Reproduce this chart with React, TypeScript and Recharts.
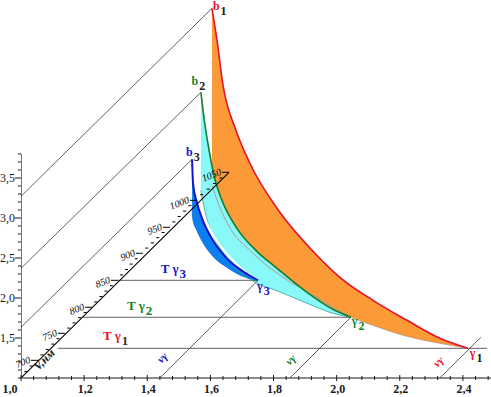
import {
  Area,
  ComposedChart,
  Line,
  ReferenceDot,
  XAxis,
  YAxis,
} from "recharts";

const SERIF = "'Liberation Serif', serif";
const RED = "#e8112d";
const GREEN = "#14802c";
const BLUE = "#1414c8";
const INK = "#1a1a1a";

const X_TICKS = [
  1.0, 1.04, 1.08, 1.12, 1.16, 1.2, 1.24, 1.28, 1.32, 1.36, 1.4, 1.44, 1.48, 1.52, 1.56, 1.6, 1.64,
  1.68, 1.72, 1.76, 1.8, 1.84, 1.88, 1.92, 1.96, 2.0, 2.04, 2.08, 2.12, 2.16, 2.2, 2.24, 2.28, 2.32,
  2.36, 2.4, 2.44, 2.48,
];
const X_LABELS = [1.0, 1.2, 1.4, 1.6, 1.8, 2.0, 2.2, 2.4];
const Y_TICKS = [
  1.0, 1.1, 1.2, 1.3, 1.4, 1.5, 1.6, 1.7, 1.8, 1.9, 2.0, 2.1, 2.2, 2.3, 2.4, 2.5, 2.6, 2.7, 2.8, 2.9,
  3.0, 3.1, 3.2, 3.3, 3.4, 3.5, 3.6, 3.7, 3.8,
];
const Y_LABELS = [1.5, 2.0, 2.5, 3.0, 3.5];

// filled bands: [x, lower, upper]
const orangeBand = [
  [1.605, 3.696, 5.621],
  [1.621, 3.396, 5.22],
  [1.64, 3.196, 4.66],
  [1.681, 2.896, 4.096],
  [1.725, 2.684, 3.684],
  [1.82, 2.334, 3.071],
  [1.922, 2.034, 2.596],
  [2.01, 1.821, 2.259],
  [2.115, 1.659, 1.971],
  [2.223, 1.521, 1.721],
  [2.327, 1.434, 1.496],
  [2.416, 1.371, 1.371],
];
const cyanBand = [
  [1.57, 3.346, 4.571],
  [1.583, 3.08, 4.159],
  [1.596, 2.9, 3.846],
  [1.611, 2.76, 3.534],
  [1.634, 2.6, 3.246],
  [1.684, 2.36, 2.871],
  [1.744, 2.19, 2.596],
  [1.811, 2.09, 2.371],
  [1.906, 1.934, 2.071],
  [1.988, 1.809, 1.859],
  [2.045, 1.759, 1.759],
];
const blueBand = [
  [1.542, 3.096, 3.734],
  [1.545, 2.971, 3.434],
  [1.557, 2.846, 3.196],
  [1.576, 2.696, 2.971],
  [1.608, 2.521, 2.721],
  [1.652, 2.384, 2.496],
  [1.703, 2.271, 2.334],
  [1.751, 2.221, 2.221],
];

const innerCurve = [
  [1.605, 3.409],
  [1.63, 3.134],
  [1.652, 2.946],
  [1.735, 2.559],
  [1.83, 2.259],
  [1.938, 2.009],
  [2.045, 1.759],
];
const whiteCurve = [
  [1.564, 3.271],
  [1.583, 2.996],
  [1.615, 2.746],
  [1.659, 2.521],
  [1.709, 2.334],
  [1.751, 2.221],
];

// straight construction lines
const straightLines = [
  { id: "b1", points: [[1.0, 3.271], [1.605, 5.621]] },
  { id: "b2", points: [[1.0, 2.371], [1.57, 4.571]] },
  { id: "b3", points: [[1.0, 1.634], [1.542, 3.734]] },
  { id: "t3", points: [[1.307, 2.221], [1.751, 2.221]] },
  { id: "t2", points: [[1.193, 1.759], [2.045, 1.759]] },
  { id: "t1", points: [[1.117, 1.371], [2.476, 1.371]] },
  { id: "v3", points: [[1.44, 1.0], [1.751, 2.221]] },
  { id: "v2", points: [[1.852, 1.0], [2.045, 1.759]] },
  { id: "v1", points: [[2.327, 1.0], [2.457, 1.509]] },
];
const tempAxisLine = [[1.0, 1.0], [1.659, 3.571]];
const yAxisLine = [[1.0, 1.0], [1.0, 3.8]];

const tempLabels = ["700", "750", "800", "850", "900", "950", "1000", "1050"];
const tempX = [1.054, 1.139, 1.225, 1.307, 1.386, 1.472, 1.557, 1.659];
const tempY = [1.221, 1.559, 1.884, 2.221, 2.559, 2.884, 3.221, 3.571];
const tempMinorX = [
  1.02, 1.037, 1.071, 1.088, 1.105, 1.122, 1.156, 1.173, 1.19, 1.208, 1.241, 1.258, 1.274, 1.291, 1.323,
  1.339, 1.354, 1.37, 1.403, 1.421, 1.438, 1.455, 1.489, 1.506, 1.523, 1.54, 1.577, 1.598, 1.618, 1.638,
];
const tempMinorY = [
  1.08, 1.15, 1.289, 1.356, 1.424, 1.491, 1.624, 1.689, 1.754, 1.819, 1.951, 2.019, 2.086, 2.154, 2.289,
  2.356, 2.424, 2.491, 2.624, 2.689, 2.754, 2.819, 2.951, 3.019, 3.086, 3.154, 3.291, 3.361, 3.431, 3.501,
];

const sceneLabels = [
  { main: "b", sub: "1", x: 1.608, y: 5.596, color: RED, subColor: INK, size: 12 },
  { main: "b", sub: "2", x: 1.54, y: 4.66, color: GREEN, subColor: INK, size: 12 },
  { main: "b", sub: "3", x: 1.523, y: 3.78, color: BLUE, subColor: INK, size: 12 },
  { main: "γ", sub: "1", x: 2.422, y: 1.26, color: RED, subColor: INK, size: 12 },
  { main: "γ", sub: "2", x: 2.048, y: 1.66, color: GREEN, subColor: GREEN, size: 12 },
  { main: "γ", sub: "3", x: 1.748, y: 2.1, color: BLUE, subColor: BLUE, size: 12 },
  { main: "T γ", sub: "1", x: 1.26, y: 1.47, color: RED, subColor: "#403020", size: 13 },
  { main: "T γ", sub: "2", x: 1.336, y: 1.846, color: GREEN, subColor: GREEN, size: 13 },
  { main: "T γ", sub: "3", x: 1.443, y: 2.31, color: BLUE, subColor: BLUE, size: 13 },
];
const slantLabels = [
  { text: "vγ", x: 1.456, y: 1.221, color: BLUE, size: 11 },
  { text: "vγ", x: 1.862, y: 1.196, color: GREEN, size: 11 },
  { text: "vγ", x: 2.33, y: 1.17, color: RED, size: 11 },
  { text: "V,нм", x: 1.082, y: 1.196, color: INK, size: 12 },
];

const comma = (v: number) => v.toFixed(1).replace(".", ",");
const pts = (rows: number[][]) => rows.map(([x, y]) => ({ x, y }));
const band = (rows: number[][]) => rows.map(([x, lo, hi]) => ({ x, range: [lo, hi] }));
const upper = (rows: number[][]) => rows.map(([x, , hi]) => ({ x, y: hi }));
const lower = (rows: number[][]) => rows.map(([x, lo]) => ({ x, y: lo }));

function XTick({ x, y, payload }: any) {
  const major = X_LABELS.some((v) => Math.abs(v - payload.value) < 0.001);
  const first = payload.value === 1;
  return (
    <g>
      <line x1={x} x2={x} y1={y - (major ? 3 : 2)} y2={y + (major ? 3 : 2)} stroke={INK} />
      {major && (
        <text
          x={first ? x - 11 : x + 1}
          y={y + 15}
          textAnchor="middle"
          fontFamily={SERIF}
          fontWeight="bold"
          fontSize={12}
          fill={INK}
        >
          {comma(payload.value)}
        </text>
      )}
    </g>
  );
}

function YTick({ x, y, payload }: any) {
  const major = Y_LABELS.some((v) => Math.abs(v - payload.value) < 0.001);
  return (
    <g>
      <line x1={x - (major ? 6 : 3)} x2={x} y1={y} y2={y} stroke={INK} />
      {major && (
        <text
          x={x - 6}
          y={y + 4}
          textAnchor="end"
          fontFamily={SERIF}
          fontSize={12}
          fill={INK}
        >
          {comma(payload.value)}
        </text>
      )}
    </g>
  );
}

function curve(id: string, data: any[], color: string, width: number, type: "linear" | "monotone" = "monotone") {
  return (
    <Line
      key={id}
      data={data}
      dataKey="y"
      type={type}
      stroke={color}
      strokeWidth={width}
      dot={false}
      legendType="none"
      isAnimationActive={false}
    />
  );
}

function fill(id: string, rows: number[][], color: string) {
  return (
    <Area
      key={id}
      data={band(rows)}
      dataKey="range"
      type="monotone"
      fill={color}
      fillOpacity={1}
      stroke="none"
      dot={false}
      legendType="none"
      isAnimationActive={false}
    />
  );
}

export default function App() {
  return (
    <div style={{ position: "absolute", left: 0, top: 0 }}>
      <ComposedChart width={491} height={397} margin={{ top: 0, right: 0, bottom: 0, left: 0 }}>
        <XAxis
          dataKey="x"
          type="number"
          domain={[1, 2.489]}
          ticks={X_TICKS}
          interval={0}
          tick={<XTick />}
          tickLine={false}
          tickSize={0}
          tickMargin={0}
          axisLine={{ stroke: INK }}
          height={19}
          allowDataOverflow
        />
        <YAxis
          type="number"
          domain={[1, 5.725]}
          ticks={Y_TICKS}
          interval={0}
          tick={<YTick />}
          tickLine={false}
          tickSize={0}
          tickMargin={0}
          axisLine={false}
          width={21}
          allowDataOverflow
        />

        {straightLines.map((l) => curve(l.id, pts(l.points), "#3a3a3a", 0.8, "linear"))}

        {fill("cyan", cyanBand, "#88f8f8")}
        {curve("cyan-low", lower(cyanBand), "#3aa090", 0.8)}
        {curve("inner", pts(innerCurve), "#b09a90", 1)}
        {fill("orange", orangeBand, "#fb9a36")}
        {curve("orange-low", lower(orangeBand), "#c08a70", 0.8)}
        {fill("blue", blueBand, "#0a80f0")}
        {curve("white", pts(whiteCurve), "#ffffff", 2)}
        {curve("blue-top", upper(blueBand), BLUE, 2)}
        {curve("blue-low", lower(blueBand), "#0a60d0", 0.8)}
        {curve("green-top", upper(cyanBand), GREEN, 1.6)}
        {curve("red-top", upper(orangeBand), RED, 1.6)}

        {curve("temp-axis", pts(tempAxisLine), "#000000", 1.1, "linear")}
        {curve("y-axis", pts(yAxisLine), INK, 1.2, "linear")}

        {tempMinorX.map((x, i) => (
          <ReferenceDot
            key={`minor-${i}`}
            x={x}
            y={tempMinorY[i]}
            ifOverflow="visible"
            shape={({ cx, cy }: any) => <line x1={cx - 3} x2={cx} y1={cy} y2={cy} stroke="#000" />}
          />
        ))}
        {tempLabels.map((t, i) => (
          <ReferenceDot
            key={t}
            x={tempX[i]}
            y={tempY[i]}
            ifOverflow="visible"
            shape={({ cx, cy }: any) => (
              <g>
                <line x1={cx - 7} x2={cx} y1={cy} y2={cy} stroke="#000" />
                <text
                  transform={`translate(${cx - 7} ${cy + 2}) rotate(-22)`}
                  textAnchor="end"
                  fontFamily={SERIF}
                  fontStyle="italic"
                  fontSize={10}
                  fill="#000"
                >
                  {t}
                </text>
              </g>
            )}
          />
        ))}

        {sceneLabels.map((l) => (
          <ReferenceDot
            key={l.main + l.sub}
            x={l.x}
            y={l.y}
            ifOverflow="visible"
            shape={({ cx, cy }: any) => (
              <text x={cx} y={cy} fontFamily={SERIF} fontWeight="bold" fontSize={l.size} fill={l.color}>
                {l.main}
                <tspan dx={1} dy={5} fill={l.subColor}>
                  {l.sub}
                </tspan>
              </text>
            )}
          />
        ))}
        {slantLabels.map((l) => (
          <ReferenceDot
            key={l.text + l.color}
            x={l.x}
            y={l.y}
            ifOverflow="visible"
            shape={({ cx, cy }: any) => (
              <text
                transform={`translate(${cx} ${cy}) rotate(-45)`}
                textAnchor="middle"
                fontFamily={SERIF}
                fontStyle="italic"
                fontWeight="bold"
                fontSize={l.size}
                fill={l.color}
              >
                {l.text}
              </text>
            )}
          />
        ))}
      </ComposedChart>
    </div>
  );
}
